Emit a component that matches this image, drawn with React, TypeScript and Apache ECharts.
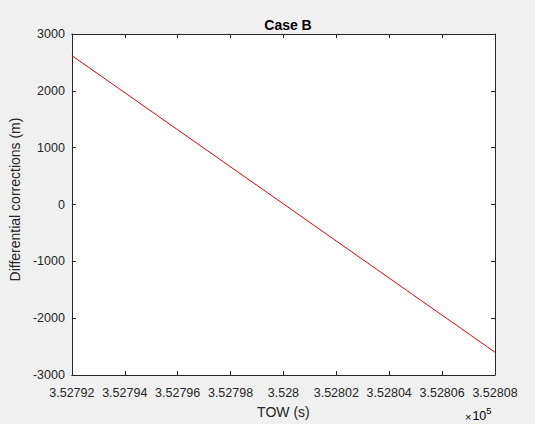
import React, { useEffect, useRef } from "react";
import * as echarts from "echarts";

const towSeconds: number[] = [352792, 352808];
const corrections: number[] = [2620, -2600];
const xTicks: number[] = [352792, 352794, 352796, 352798, 352800, 352802, 352804, 352806, 352808];
const yTicks: number[] = [-3000, -2000, -1000, 0, 1000, 2000, 3000];

const FONT = "'Liberation Sans', Arial, Helvetica, sans-serif";
const INK = "#262626";

export default function App() {
  const ref = useRef<HTMLDivElement>(null);
  useEffect(() => {
    if (!ref.current) return;
    const chart = echarts.init(ref.current, undefined, { renderer: "svg" });
    const fmtX = (v: number) => parseFloat((v / 1e5).toFixed(5)).toString();
    const fmtY = (v: number) => String(v);
    const baseAxis = {
      axisLine: { show: true, onZero: false, lineStyle: { color: INK, width: 1 } },
      axisTick: { show: true, inside: true, length: 4, lineStyle: { color: INK } },
      splitLine: { show: false },
    };
    chart.setOption({
      animation: false,
      backgroundColor: "#f0f0f0",
      textStyle: { fontFamily: FONT },
      title: {
        text: "Case B",
        left: 283,
        top: 13,
        textAlign: "center",
        textStyle: { fontFamily: FONT, fontSize: 14, fontWeight: "bold", color: "#000" },
      },
      grid: {
        left: 71,
        right: 40,
        top: 34,
        bottom: 47,
        show: true,
        backgroundColor: "#ffffff",
        borderWidth: 0,
      },
      xAxis: [
        {
          ...baseAxis,
          type: "value",
          min: xTicks[0],
          max: xTicks[xTicks.length - 1],
          interval: 2,
          position: "bottom",
          name: "TOW (s)",
          nameLocation: "middle",
          nameGap: 30,
          nameTextStyle: { fontFamily: FONT, fontSize: 14, color: INK },
          axisLabel: { formatter: fmtX, fontFamily: FONT, fontSize: 12.5, color: INK, margin: 11 },
        },
        {
          ...baseAxis,
          type: "value",
          min: xTicks[0],
          max: xTicks[xTicks.length - 1],
          interval: 2,
          position: "top",
          axisLabel: { show: false },
        },
      ],
      yAxis: [
        {
          ...baseAxis,
          type: "value",
          min: yTicks[0],
          max: yTicks[yTicks.length - 1],
          interval: 1000,
          position: "left",
          name: "Differential corrections (m)",
          nameLocation: "middle",
          nameGap: 42,
          nameTextStyle: { fontFamily: FONT, fontSize: 14, color: INK, padding: [0, 0, 0, 10] },
          axisLabel: { formatter: fmtY, fontFamily: FONT, fontSize: 12.5, color: INK, margin: 7 },
        },
        {
          ...baseAxis,
          type: "value",
          min: yTicks[0],
          max: yTicks[yTicks.length - 1],
          interval: 1000,
          position: "right",
          axisLabel: { show: false },
        },
      ],
      graphic: [
        {
          type: "text",
          left: 465,
          top: 405,
          style: {
            text: "{a|×}{b|10}{c|5}",
            rich: {
              a: { fontFamily: FONT, fontSize: 11, color: INK, verticalAlign: "bottom", padding: [0, 1, 0, 0] },
              b: { fontFamily: FONT, fontSize: 12.5, color: INK, verticalAlign: "bottom" },
              c: { fontFamily: FONT, fontSize: 9.5, color: INK, verticalAlign: "top", padding: [0, 0, 7, 0] },
            },
          },
        },
      ],
      series: [
        {
          type: "line",
          xAxisIndex: 0,
          yAxisIndex: 0,
          data: towSeconds.map((t, i) => [t, corrections[i]]),
          showSymbol: false,
          lineStyle: { color: "#ff0000", width: 1 },
        },
      ],
    });
    return () => chart.dispose();
  }, []);
  return (
    <div
      ref={ref}
      style={{ position: "fixed", left: 0, top: 0, width: 535, height: 424 }}
    />
  );
}
